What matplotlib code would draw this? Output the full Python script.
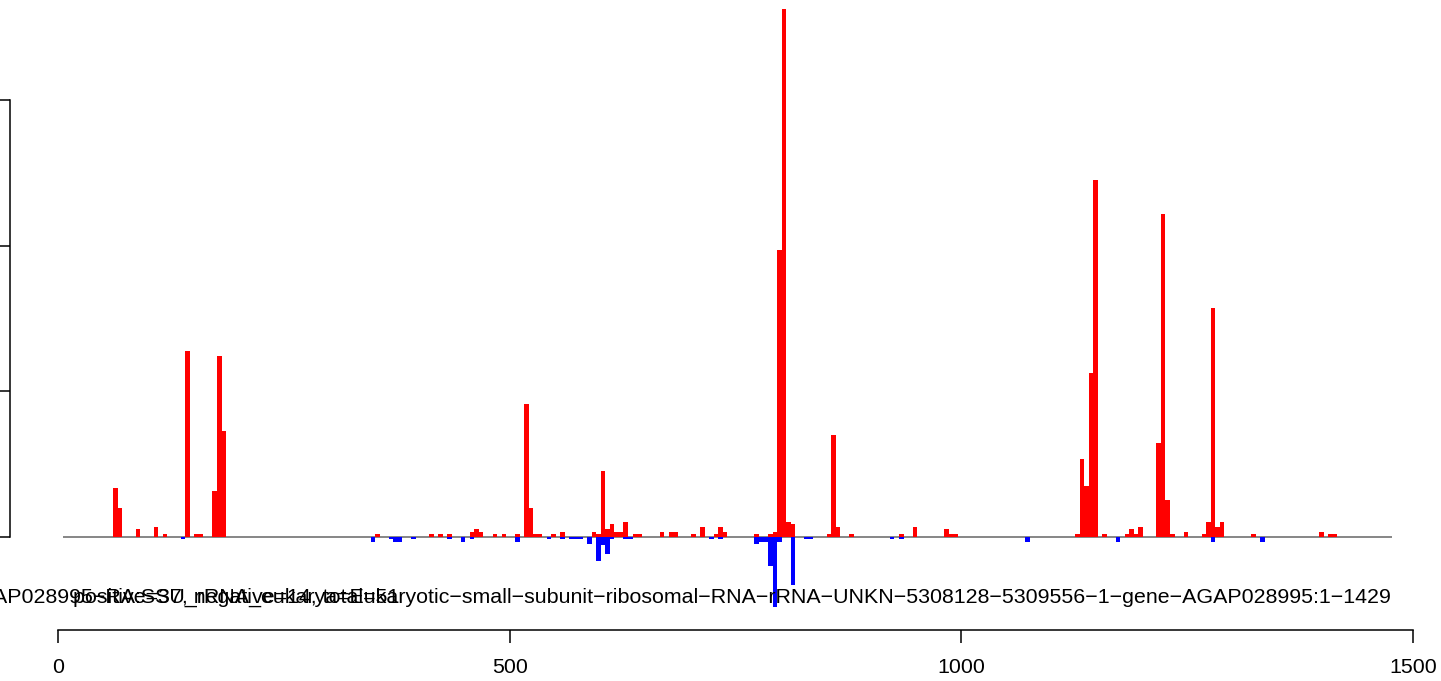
import matplotlib
matplotlib.use("Agg")
import matplotlib.pyplot as plt

plt.rcParams["font.family"] = ["Liberation Sans", "DejaVu Sans"]

# ---------------------------------------------------------------
# coverage per 5-nt bin (bin start, 1-based), plus and minus strand
# ---------------------------------------------------------------
pos_start = [61, 66, 86, 106, 116, 141, 151, 156, 171, 176, 181,
             351, 411, 421, 431, 456, 461, 466, 481, 491, 506,
             516, 521, 526, 531, 546, 556, 591, 596, 601, 606, 611,
             616, 621, 626, 636, 641, 666, 676, 681,
             701, 711, 726, 731, 736, 771, 786, 791, 796, 801, 806, 811,
             851, 856, 861, 876, 931, 946, 981, 986, 991,
             1126, 1131, 1136, 1141, 1146, 1156, 1181, 1186, 1191, 1196,
             1216, 1221, 1226, 1231, 1246, 1266, 1271, 1276, 1281, 1286,
             1321, 1396, 1406, 1411]
pos_cov = [3.34, 1.97, 0.53, 0.67, 0.19, 12.75, 0.19, 0.19, 3.14, 12.41, 7.26,
           0.19, 0.19, 0.19, 0.19, 0.32, 0.53, 0.32, 0.19, 0.19, 0.19,
           9.11, 1.97, 0.19, 0.19, 0.19, 0.32, 0.32, 0.19, 4.51, 0.53, 0.87,
           0.32, 0.32, 1.0, 0.19, 0.19, 0.32, 0.32, 0.32,
           0.19, 0.67, 0.19, 0.67, 0.32, 0.19, 0.19, 0.32, 19.69, 36.24, 1.0, 0.87,
           0.19, 6.98, 0.67, 0.19, 0.19, 0.67, 0.53, 0.19, 0.19,
           0.19, 5.34, 3.48, 11.24, 24.5, 0.19, 0.19, 0.53, 0.19, 0.67,
           6.44, 22.16, 2.52, 0.19, 0.32, 0.19, 1.0, 15.71, 0.67, 1.0,
           0.19, 0.32, 0.19, 0.19]

neg_start = [136, 346, 366, 371, 376, 391, 431, 446, 456, 506, 541,
             556, 566, 571, 576, 586, 596, 601, 606, 611, 626, 631,
             721, 731, 771, 776, 781, 786, 791, 796, 811, 826, 831,
             921, 931, 1071, 1171, 1276, 1331]
neg_cov = [-0.16, -0.36, -0.16, -0.36, -0.36, -0.16, -0.16, -0.36, -0.16, -0.36, -0.16,
           -0.16, -0.16, -0.16, -0.16, -0.5, -1.67, -0.57, -1.19, -0.16, -0.16, -0.16,
           -0.16, -0.16, -0.5, -0.36, -0.36, -2.0, -4.85, -0.36, -3.35, -0.16, -0.16,
           -0.16, -0.16, -0.36, -0.36, -0.36, -0.36]

bin_size = 5
y_ticks = [0, 10, 20, 30]
x_ticks = [0, 500, 1000, 1500]

gene_label = ("AGAP028995\u2212RA:SSU_rRNA_eukarya=Eukaryotic\u2212small\u2212subunit\u2212"
              "ribosomal\u2212RNA\u2212rRNA\u2212UNKN\u22125308128\u22125309556\u22121"
              "\u2212gene\u2212AGAP028995:1\u22121429")
count_label = "positive=37, negative=14, total=51"

# ---------------------------------------------------------------
# layout (pixels of a 1441 x 681 canvas)
# ---------------------------------------------------------------
W, H = 1441, 681
X0, SX = 58, 1355 / 1500       # px of position 0, px per nt
Y0, SY = 536.7, 14.56          # px of zero line, px per unit
FS = 15.4

fig = plt.figure(figsize=(W / 100, H / 100), dpi=100)
fig.patch.set_facecolor("white")

ax = fig.add_axes([0, 0, 1, 1])
ax.set_xlim(-X0 / SX, (W - X0) / SX)
ax.set_ylim(-(H - Y0) / SY, Y0 / SY)
ax.axis("off")

ax.hlines(0, 5.5, 1477, color="#666666", linewidth=1.1, zorder=1)
ax.bar(neg_start, neg_cov, width=bin_size, align="edge",
       color="#0000FF", linewidth=0, antialiased=False, zorder=2)
ax.bar(pos_start, pos_cov, width=bin_size, align="edge",
       color="#FF0000", linewidth=0, antialiased=False, zorder=3)

# left axis (labels fall outside the canvas)
axl = fig.add_axes([10 / W, (H - Y0) / H, 0.0005, 30 * SY / H])
axl.set_ylim(0, 30)
axl.set_yticks(y_ticks)
axl.set_xticks([])
axl.patch.set_alpha(0)
for s in ["right", "top", "bottom"]:
    axl.spines[s].set_visible(False)
axl.spines["left"].set_linewidth(1.1)
axl.tick_params(axis="y", direction="out", length=10, width=1.1, labelleft=False)

# bottom position axis
axb = fig.add_axes([X0 / W, (H - 630) / H, 1355 / W, 0.0005])
axb.set_xlim(0, 1500)
axb.set_xticks(x_ticks)
axb.set_yticks([])
axb.patch.set_alpha(0)
for s in ["left", "right", "top"]:
    axb.spines[s].set_visible(False)
axb.spines["bottom"].set_linewidth(1.1)
axb.tick_params(axis="x", direction="out", length=9.5, width=1.1,
                pad=11, labelsize=FS)

# titles under the bars, overlapping as in the original
fig.text(1392 / W, 1 - 603 / H, gene_label, ha="right", va="baseline",
         fontsize=FS, color="black")
fig.text(73 / W, 1 - 603 / H, count_label, ha="left", va="baseline",
         fontsize=FS, color="black")

fig.savefig("out.png", dpi=100, facecolor="white")
